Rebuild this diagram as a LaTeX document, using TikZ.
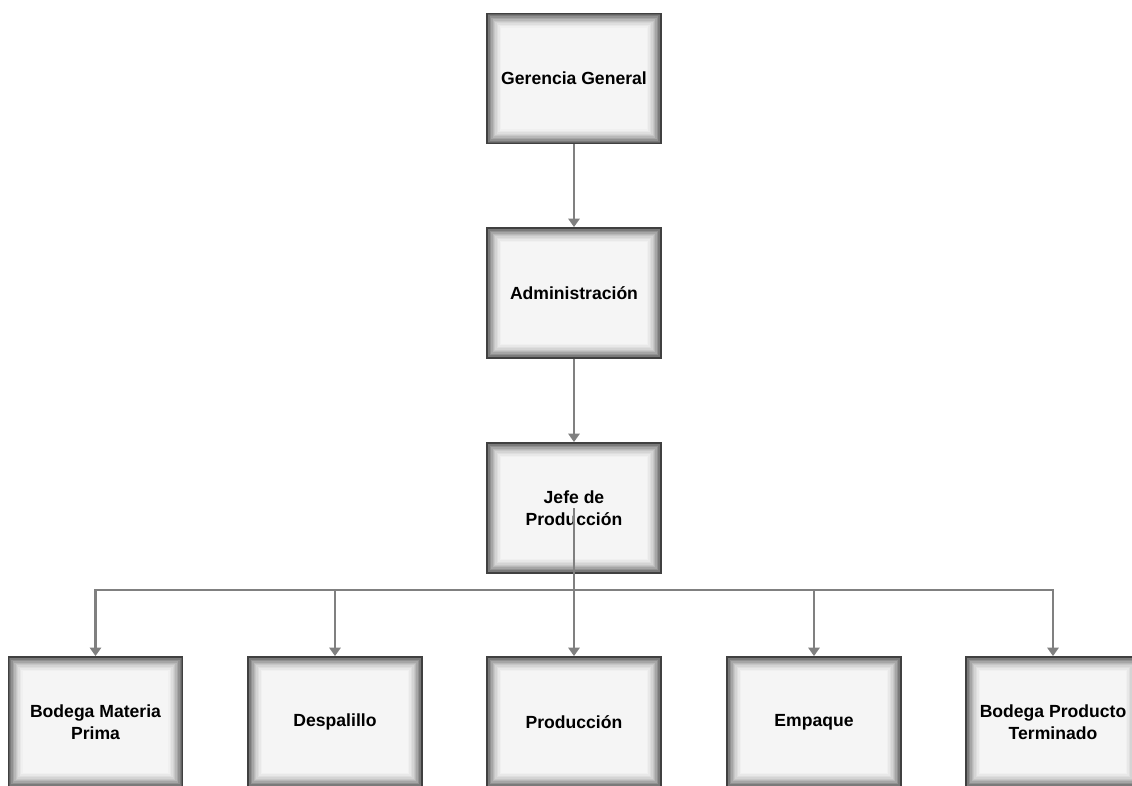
\documentclass[tikz,border=0pt]{standalone}
\usepackage{fontspec}
\setmainfont{Liberation Sans}
\usetikzlibrary{arrows.meta,positioning}

\begin{document}
\begin{tikzpicture}[x=0.025cm,y=-0.025cm,>={Triangle[length=6pt,width=8pt]},
 unit/.style={draw=black!75,line width=1.3pt,fill=black!4,minimum width=4.35cm,minimum height=3.25cm,
  align=center,font=\fontsize{12.5}{15.5}\selectfont\bfseries,
  path picture={\foreach \i/\c in {0/62,1/52,2/43,3/35,4/28,5/22,6/17,7/13,8/9,9/6}
   \draw[black!\c,line width=1.1pt] ([shift={(\i*1pt+0.55pt,-\i*1pt-0.55pt)}]path picture bounding box.north west)
    rectangle ([shift={(-\i*1pt-0.55pt,\i*1pt+0.55pt)}]path picture bounding box.south east);}},
 link/.style={draw=black!50,line width=1.6pt}]
\clip (0,0) rectangle (1132,785);
\useasboundingbox (0,0) rectangle (1132,785);
\node[unit] (gg) at (574,78.5) {Gerencia General};
\node[unit] (adm) at (574,293) {Administración};
\node[unit] (jefe) at (574,508) {Jefe de\\Producción};
\node[unit] (bmp) at (95.5,722) {Bodega Materia\\Prima};
\node[unit] (desp) at (335,722) {Despalillo};
\node[unit] (prod) at (574,722) {Producción};
\node[unit] (emp) at (814,722) {Empaque};
\node[unit] (bpt) at (1053,722) {Bodega Producto\\Terminado};
\coordinate (bus) at (574,590);
\draw[link,->] (gg) -- (adm);
\draw[link,->] (adm) -- (jefe);
\draw[link,->] (jefe.center) -- (prod.north);
\draw[link,->] (bus) -| (bmp.north);
\draw[link,->] (bus) -| (desp.north);
\draw[link,->] (bus) -| (emp.north);
\draw[link,->] (bus) -| (bpt.north);
\end{tikzpicture}
\end{document}
